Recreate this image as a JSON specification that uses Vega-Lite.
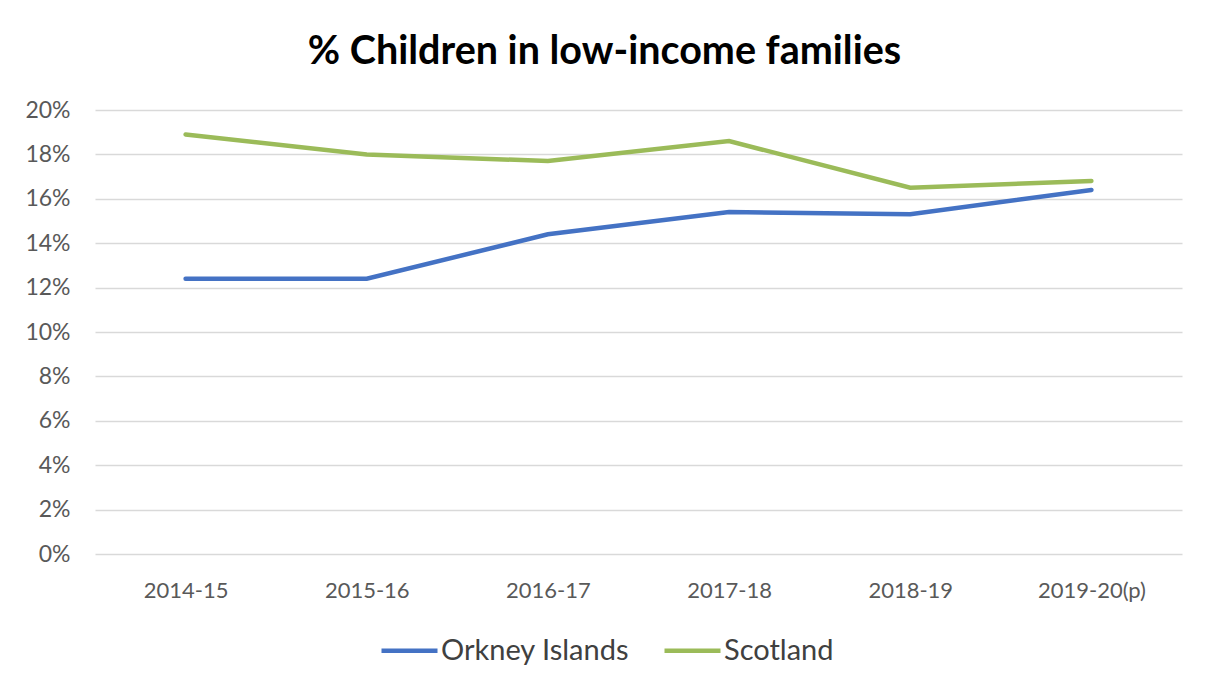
{
  "$schema": "https://vega.github.io/schema/vega-lite/v6.json",
  "autosize": "none",
  "width": 1087,
  "height": 444,
  "padding": {"left": 95, "top": 110, "right": 26, "bottom": 133},
  "background": "white",
  "title": {
    "text": "% Children in low-income families",
    "font": "Lato",
    "fontSize": 39.5,
    "fontWeight": "bold",
    "color": "#000000",
    "anchor": "middle",
    "dx": -34,
    "offset": 27
  },
  "data": {
    "values": [
      {"year": "2014-15", "area": "Orkney Islands", "pct": 0.124},
      {"year": "2015-16", "area": "Orkney Islands", "pct": 0.124},
      {"year": "2016-17", "area": "Orkney Islands", "pct": 0.144},
      {"year": "2017-18", "area": "Orkney Islands", "pct": 0.154},
      {"year": "2018-19", "area": "Orkney Islands", "pct": 0.153},
      {"year": "2019-20(p)", "area": "Orkney Islands", "pct": 0.164},
      {"year": "2014-15", "area": "Scotland", "pct": 0.189},
      {"year": "2015-16", "area": "Scotland", "pct": 0.180},
      {"year": "2016-17", "area": "Scotland", "pct": 0.177},
      {"year": "2017-18", "area": "Scotland", "pct": 0.186},
      {"year": "2018-19", "area": "Scotland", "pct": 0.165},
      {"year": "2019-20(p)", "area": "Scotland", "pct": 0.168}
    ]
  },
  "mark": {"type": "line", "strokeWidth": 4.5, "strokeCap": "round"},
  "encoding": {
    "x": {
      "field": "year",
      "type": "ordinal",
      "sort": null,
      "scale": {"type": "point", "padding": 0.5},
      "axis": {
        "title": null,
        "labelAngle": 0,
        "labelFont": "Lato",
        "labelFontSize": 22,
        "labelColor": "#595959",
        "labelPadding": 26,
        "ticks": false,
        "domain": false,
        "grid": false
      }
    },
    "y": {
      "field": "pct",
      "type": "quantitative",
      "scale": {"domain": [0, 0.2], "nice": false},
      "axis": {
        "title": null,
        "format": ".0%",
        "values": [0, 0.02, 0.04, 0.06, 0.08, 0.1, 0.12, 0.14, 0.16, 0.18, 0.2],
        "labelFont": "Lato",
        "labelFontSize": 23,
        "labelColor": "#595959",
        "labelPadding": 25,
        "ticks": false,
        "domain": false,
        "grid": true,
        "gridColor": "#d9d9d9",
        "gridWidth": 1.5
      }
    },
    "color": {
      "field": "area",
      "type": "nominal",
      "scale": {"domain": ["Orkney Islands", "Scotland"], "range": ["#4472C4", "#9BBB59"]},
      "legend": {
        "title": null,
        "orient": "none",
        "direction": "horizontal",
        "legendX": 284,
        "legendY": 510,
        "symbolType": "stroke",
        "symbolSize": 3136,
        "symbolStrokeWidth": 4.5,
        "symbolOffset": 0,
        "labelFont": "Lato",
        "labelFontSize": 29,
        "labelLimit": 400,
        "labelColor": "#404040",
        "labelOffset": 1,
        "columnPadding": 25
      }
    }
  },
  "config": {"view": {"stroke": null}}
}
